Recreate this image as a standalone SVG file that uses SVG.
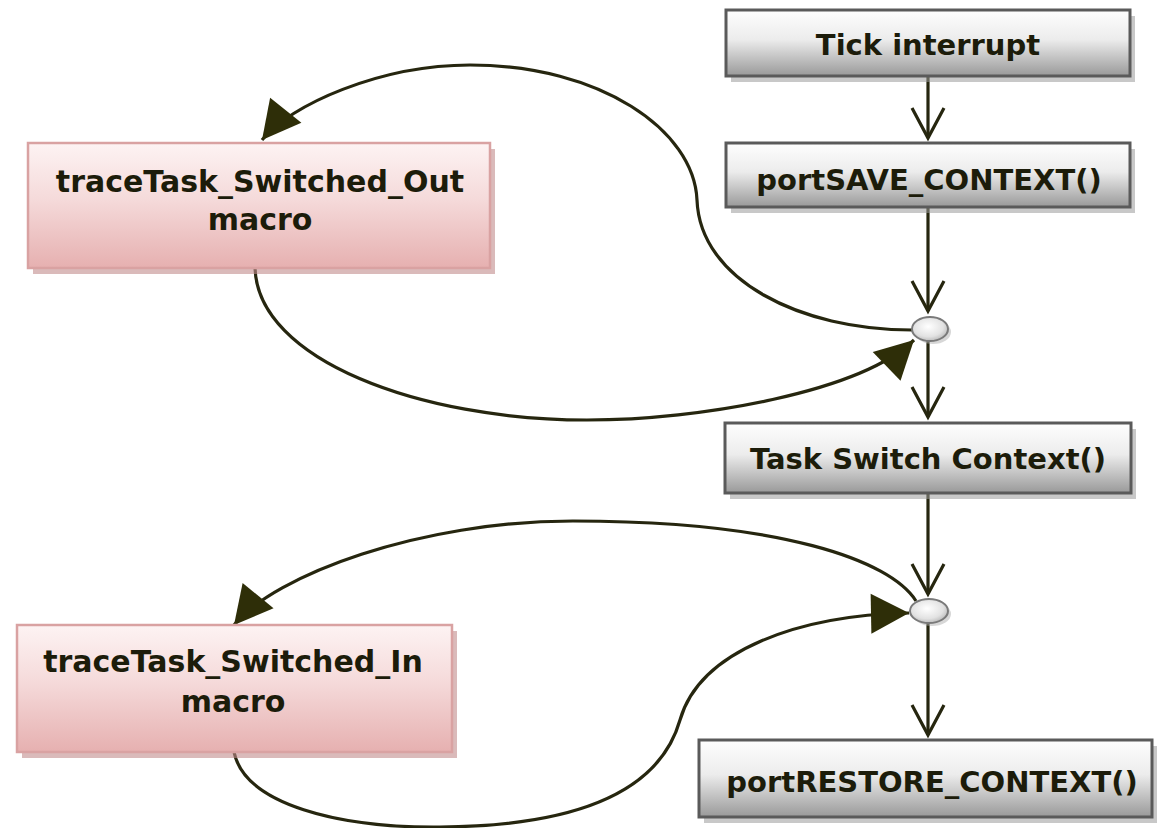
<svg xmlns="http://www.w3.org/2000/svg" width="1159" height="828" viewBox="0 0 1159 828">
<defs>
<linearGradient id="gGray" x1="0" y1="0" x2="0" y2="1">
<stop offset="0" stop-color="#fefefe"/>
<stop offset="0.45" stop-color="#ececec"/>
<stop offset="1" stop-color="#999999"/>
</linearGradient>
<linearGradient id="gPink" x1="0" y1="0" x2="0" y2="1">
<stop offset="0" stop-color="#fdf3f3"/>
<stop offset="0.45" stop-color="#f5dada"/>
<stop offset="1" stop-color="#e6b0b0"/>
</linearGradient>
<radialGradient id="gEll" cx="0.45" cy="0.4" r="0.7">
<stop offset="0" stop-color="#ffffff"/>
<stop offset="0.6" stop-color="#e2e2e2"/>
<stop offset="1" stop-color="#a8a8a8"/>
</radialGradient>
<marker id="open" markerUnits="userSpaceOnUse" markerWidth="36" markerHeight="38" refX="32" refY="18" orient="auto" overflow="visible">
<path d="M2,2 L32,18 L2,34" fill="none" stroke="#26260f" stroke-width="3.2"/>
</marker>
<marker id="tri" markerUnits="userSpaceOnUse" markerWidth="40" markerHeight="42" refX="38" refY="20" orient="auto" overflow="visible">
<path d="M0,0 L38,20 L0,40 z" fill="#2e2e08"/>
</marker>
</defs>
<style>
.gbox{fill:url(#gGray);stroke:#5a5a5a;stroke-width:3}
.gsh{fill:#9a9a9a;opacity:0.55}
.pbox{fill:url(#gPink);stroke:#d9a2a2;stroke-width:2.5}
.psh{fill:#c28c8c;opacity:0.6}
.t{font-family:"DejaVu Sans","Liberation Sans",sans-serif;font-weight:bold;font-size:29px;fill:#1c1c0a;text-anchor:middle}
.tp{font-size:30px}
.ln{fill:none;stroke:#26260f;stroke-width:3.2}
.ell{fill:url(#gEll);stroke:#7a7a7a;stroke-width:2}
.esh{fill:#b0b0b0;opacity:0.5}
</style>
<rect width="1159" height="828" fill="#ffffff"/>

<g id="connectors">
<line class="ln" x1="928" y1="77" x2="928" y2="138" marker-end="url(#open)"/>
<line class="ln" x1="928" y1="207" x2="928" y2="311" marker-end="url(#open)"/>
<line class="ln" x1="928" y1="341" x2="928" y2="417" marker-end="url(#open)"/>
<line class="ln" x1="928" y1="493" x2="928" y2="594" marker-end="url(#open)"/>
<line class="ln" x1="928" y1="623" x2="928" y2="735" marker-end="url(#open)"/>
<path class="ln" d="M 912 330 C 800 330, 700 280, 697 200 C 694 130, 600 65, 470 65 C 380 65, 290 105, 262 140" marker-end="url(#tri)"/>
<path class="ln" d="M 255 268 C 258 360, 420 420, 587 420 C 700 420, 860 392, 914 340" marker-end="url(#tri)"/>
<path class="ln" d="M 916 601 C 890 560, 780 521, 573 521 C 420 521, 275 575, 234 625" marker-end="url(#tri)"/>
<path class="ln" d="M 234 752 C 245 805, 340 828, 440 827 C 580 826, 660 790, 680 720 C 700 650, 800 615, 909 613" marker-end="url(#tri)"/>
</g>

<g id="tick">
<rect class="gsh" x="731" y="16" width="404" height="66"/>
<rect class="gbox" x="726" y="10" width="404" height="66"/>
<text class="t" x="928" y="55">Tick interrupt</text>
</g>
<g id="save">
<rect class="gsh" x="731" y="149" width="404" height="64"/>
<rect class="gbox" x="726" y="143" width="404" height="64"/>
<text class="t" x="929" y="190">portSAVE_CONTEXT()</text>
</g>
<g id="junction1">
<ellipse class="esh" cx="933" cy="332" rx="18" ry="12"/>
<ellipse class="ell" cx="930" cy="329" rx="18" ry="12"/>
</g>
<g id="taskswitch">
<rect class="gsh" x="730" y="429" width="406" height="70"/>
<rect class="gbox" x="725" y="423" width="406" height="70"/>
<text class="t" x="928" y="469">Task Switch Context()</text>
</g>
<g id="junction2">
<ellipse class="esh" cx="932" cy="614" rx="19" ry="12"/>
<ellipse class="ell" cx="929" cy="611" rx="19" ry="12"/>
</g>
<g id="restore">
<rect class="gsh" x="704" y="746" width="453" height="77"/>
<rect class="gbox" x="699" y="740" width="453" height="77"/>
<text class="t" x="932" y="792">portRESTORE_CONTEXT()</text>
</g>
<g id="switchedOut">
<rect class="psh" x="33" y="149" width="462" height="125"/>
<rect class="pbox" x="28" y="143" width="462" height="125"/>
<text class="t tp" x="260" y="192">traceTask_Switched_Out</text>
<text class="t tp" x="260" y="230">macro</text>
</g>
<g id="switchedIn">
<rect class="psh" x="22" y="631" width="435" height="127"/>
<rect class="pbox" x="17" y="625" width="435" height="127"/>
<text class="t tp" x="233" y="672">traceTask_Switched_In</text>
<text class="t tp" x="233" y="712">macro</text>
</g>
</svg>
